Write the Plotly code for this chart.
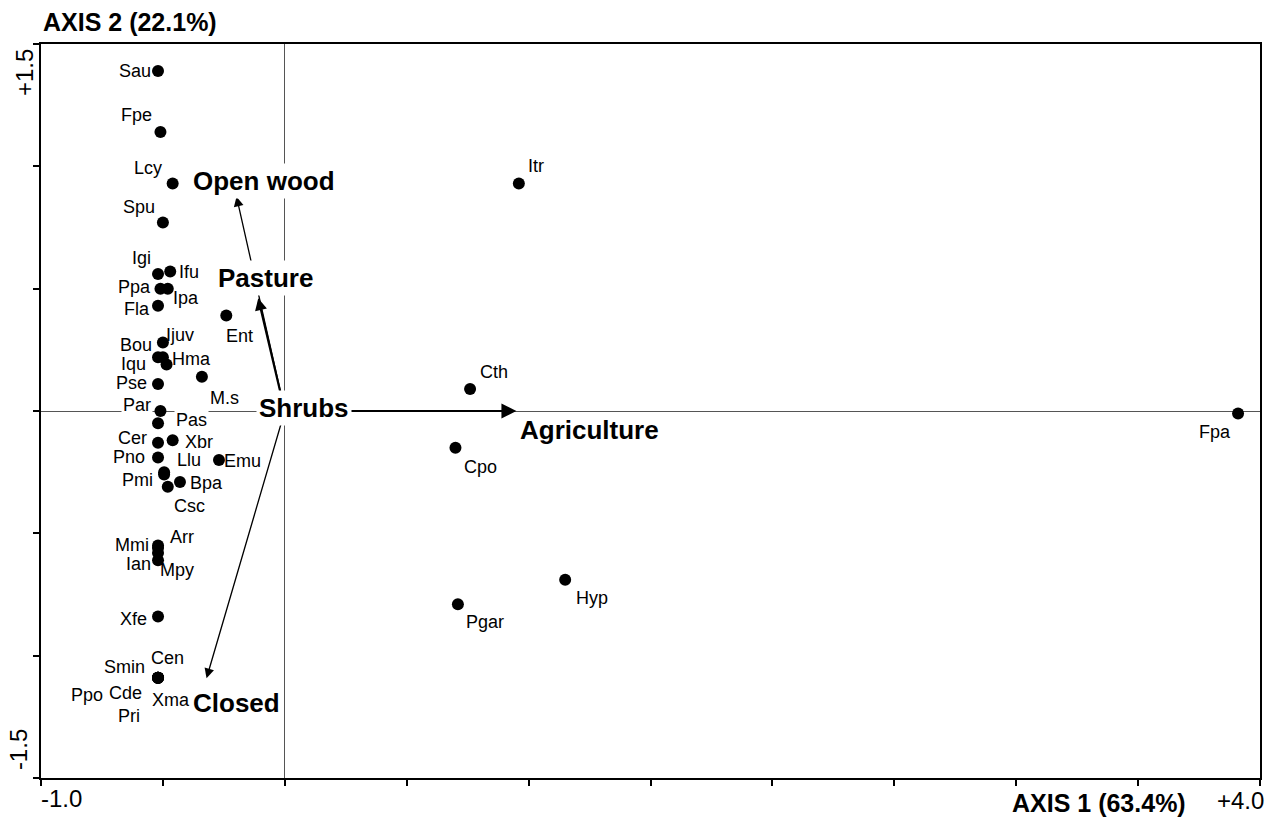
import plotly.graph_objects as go

# Species scores on the first two ordination axes
species = ["Sau", "Fpe", "Lcy", "Spu", "Igi", "Ifu", "Ppa", "Ipa", "Fla", "Ent",
           "Ijuv", "Bou", "Iqu", "Hma", "Pse", "M.s", "Par", "Pas", "Cer", "Xbr",
           "Pno", "Emu", "Llu", "Pmi", "Bpa", "Csc", "Arr", "Mmi", "Ian", "Mpy",
           "Xfe", "Cen", "Smin", "Ppo", "Cde", "Xma", "Pri",
           "Itr", "Cth", "Cpo", "Hyp", "Pgar", "Fpa"]
axis1 = [-0.52, -0.51, -0.46, -0.50, -0.52, -0.47, -0.51, -0.48, -0.52, -0.24,
         -0.50, -0.52, -0.50, -0.485, -0.52, -0.34, -0.51, -0.52, -0.52, -0.46,
         -0.52, -0.27, -0.495, -0.495, -0.43, -0.48, -0.52, -0.52, -0.52, -0.52,
         -0.52, -0.52, -0.52, -0.52, -0.52, -0.52, -0.52,
         0.96, 0.76, 0.70, 1.15, 0.71, 3.91]
axis2 = [1.39, 1.14, 0.93, 0.77, 0.56, 0.57, 0.50, 0.50, 0.43, 0.39,
         0.28, 0.22, 0.22, 0.19, 0.11, 0.14, 0.00, -0.05, -0.13, -0.12,
         -0.19, -0.20, -0.25, -0.26, -0.29, -0.31, -0.55, -0.56, -0.58, -0.61,
         -0.84, -1.09, -1.09, -1.09, -1.09, -1.09, -1.09,
         0.93, 0.09, -0.15, -0.69, -0.79, -0.01]

# Habitat vectors (arrow tips); Shrubs sits at the origin
habitats = ["Open wood", "Pasture", "Agriculture", "Closed", "Shrubs"]
hab_x = [-0.198, -0.109, 0.950, -0.321, 0.0]
hab_y = [0.876, 0.461, 0.0, -1.092, 0.0]

# Label placement (screen pixels from the point: right, down)
label_offset = {
    "Sau": (-23, 0), "Fpe": (-24, -17), "Lcy": (-25, -15), "Spu": (-24, -16),
    "Igi": (-17, -16), "Ifu": (19, 0), "Ppa": (-26, -2), "Ipa": (18, 9),
    "Fla": (-21, 3), "Ent": (13, 20), "Ijuv": (17, -7), "Bou": (-22, -12),
    "Iqu": (-29, 7), "Hma": (25, -6), "Pse": (-27, -1), "M.s": (23, 21),
    "Par": (-23, -6), "Pas": (33, -3), "Cer": (-26, -5), "Xbr": (26, 2),
    "Pno": (-29, 0), "Emu": (24, 1), "Llu": (25, -12), "Pmi": (-27, 5),
    "Bpa": (27, 1), "Csc": (22, 19), "Arr": (24, -9), "Mmi": (-26, -3),
    "Ian": (-20, 11), "Mpy": (19, 10), "Xfe": (-25, 2), "Cen": (9, -20),
    "Smin": (-34, -11), "Ppo": (-71, 17), "Cde": (-33, 15), "Xma": (13, 22),
    "Pri": (-29, 38), "Itr": (17, -17), "Cth": (24, -17), "Cpo": (25, 19),
    "Hyp": (27, 18), "Pgar": (27, 18), "Fpa": (-23, 19),
}
hab_offset = {"Open wood": (27, -16), "Pasture": (7, -20), "Agriculture": (73, 19),
              "Closed": (30, 25), "Shrubs": (19, -3)}
arrow_width = {"Open wood": 1.3, "Pasture": 2.2, "Agriculture": 2.0, "Closed": 1.3}

FONT = "Liberation Sans, Arial, sans-serif"

fig = go.Figure()
fig.add_trace(go.Scatter(
    x=axis1, y=axis2, mode="markers",
    marker=dict(size=12, color="black"),
    hoverinfo="text", text=species, showlegend=False,
))

annotations = []

# Habitat arrows from the origin
for name, hx, hy in zip(habitats, hab_x, hab_y):
    if hx == 0 and hy == 0:
        continue
    annotations.append(dict(
        x=hx, y=hy, ax=0, ay=0, xref="x", yref="y", axref="x", ayref="y",
        text="", showarrow=True, arrowhead=2, arrowsize=1.5 if name != "Pasture" else 1.1,
        arrowwidth=arrow_width[name], arrowcolor="black", standoff=0, startstandoff=0,
    ))

# Species labels
white_bg = {"Par", "Pas"}
for name, sx, sy in zip(species, axis1, axis2):
    dx, dy = label_offset[name]
    annotations.append(dict(
        x=sx, y=sy, xref="x", yref="y", text=name, showarrow=False,
        xanchor="center", yanchor="middle",
        xshift=dx, yshift=-dy, font=dict(family=FONT, size=18, color="black"),
        bgcolor="white" if name in white_bg else None, borderpad=1,
    ))

# Habitat labels
for name, hx, hy in zip(habitats, hab_x, hab_y):
    dx, dy = hab_offset[name]
    annotations.append(dict(
        x=hx, y=hy, xref="x", yref="y", text="<b>%s</b>" % name, showarrow=False,
        xanchor="center", yanchor="middle",
        xshift=dx, yshift=-dy, font=dict(family=FONT, size=26, color="black"),
        bgcolor="white" if name in ("Shrubs", "Open wood", "Pasture") else None,
        borderpad=2,
    ))

# Axis end labels and titles
def paper_text(x, y, text, size=24, angle=0, xanchor="center"):
    return dict(x=x, y=y, xref="paper", yref="paper", text=text, showarrow=False,
                xanchor=xanchor, yanchor="middle", textangle=angle,
                font=dict(family=FONT, size=size, color="black"))

annotations += [
    paper_text(0.0168, -0.0286, "-1.0"),
    paper_text(0.9836, -0.030, "+4.0"),
    paper_text(0.868, -0.034, "<b>AXIS 1 (63.4%)</b>", size=25),
    paper_text(-0.0131, 0.9605, "+1.5", angle=-90),
    paper_text(-0.0188, 0.0381, "-1.5", angle=-90),
    paper_text(0.0, 1.030, "<b>AXIS 2 (22.1%)</b>", size=25, xanchor="left"),
]

axis_common = dict(
    showgrid=False, showline=True, linewidth=2, linecolor="black", mirror=True,
    ticks="outside", ticklen=6, tickwidth=1.5, tickcolor="black",
    showticklabels=False, zeroline=True, zerolinecolor="#555555", zerolinewidth=1,
)

fig.update_layout(
    width=1273, height=819,
    margin=dict(l=41, r=11, t=44, b=41),
    plot_bgcolor="white", paper_bgcolor="white",
    xaxis=dict(range=[-1.0, 4.0], tick0=-1.0, dtick=0.5, **axis_common),
    yaxis=dict(range=[-1.5, 1.5], tick0=-1.5, dtick=0.5, **axis_common),
    annotations=annotations,
    font=dict(family=FONT),
)

fig.write_html("out.html")
